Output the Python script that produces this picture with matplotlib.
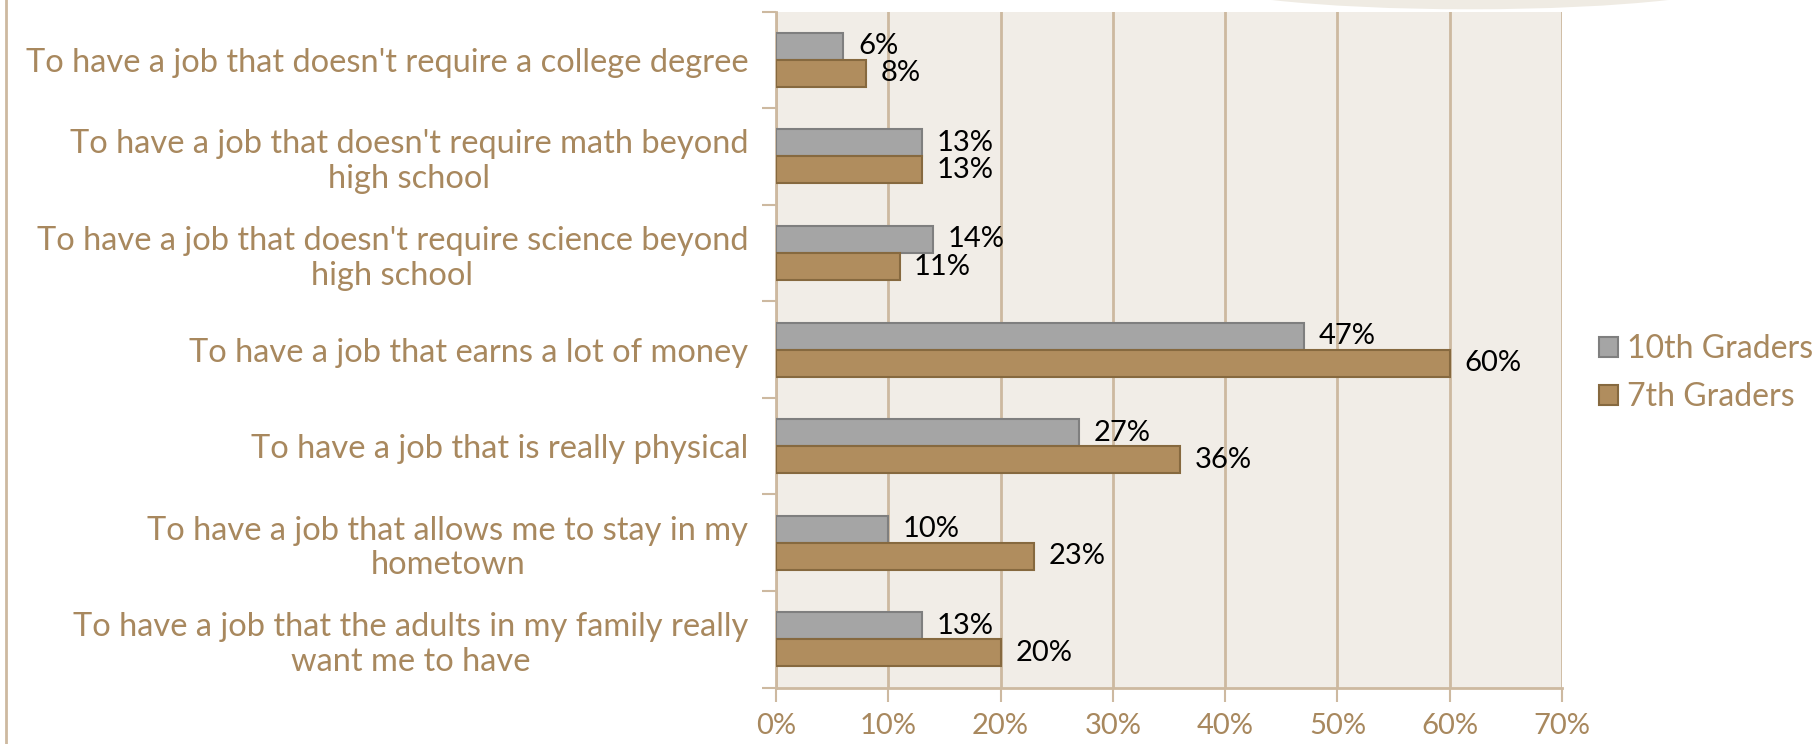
import matplotlib
matplotlib.use("Agg")
import matplotlib.pyplot as plt
from matplotlib.patches import Ellipse
from matplotlib.lines import Line2D
import numpy as np

categories = [
    "To have a job that doesn't require a college degree",
    "To have a job that doesn't require math beyond\nhigh school",
    "To have a job that doesn't require science beyond\nhigh school",
    "To have a job that earns a lot of money",
    "To have a job that is really physical",
    "To have a job that allows me to stay in my\nhometown",
    "To have a job that the adults in my family really\nwant me to have",
]
grade10 = [6, 13, 14, 47, 27, 10, 13]
grade7 = [8, 13, 11, 60, 36, 23, 20]
series = ["10th Graders", "7th Graders"]
xticks = [0, 10, 20, 30, 40, 50, 60, 70]

TAN = "#A8885E"
GRID = "#CDB9A0"
GRAY = "#A5A5A5"
BROWN = "#B08D5E"

plt.rcParams["font.family"] = ["Lato", "DejaVu Sans"]

fig = plt.figure(figsize=(18.18, 7.44), dpi=100)
# decorative slide shapes
fig.add_artist(Line2D([0.0035, 0.0035], [0, 1], transform=fig.transFigure, color=GRID, lw=2))
fig.add_artist(Ellipse((1470 / 1818, 1.03), 560 / 1818, 0.085, transform=fig.transFigure,
                       facecolor="#EFEBE3", edgecolor="none", zorder=0))

ax = fig.add_axes([776 / 1818, 0.0759, (1562 - 776) / 1818, 0.9085])
ax.set_facecolor("#F1EDE7")

y = np.arange(len(categories))
h = 0.28
ax.barh(y - h / 2, grade10, height=h, color=GRAY, edgecolor="#7F7F7F", lw=1.5, label=series[0], zorder=3)
ax.barh(y + h / 2, grade7, height=h, color=BROWN, edgecolor="#86693F", lw=1.5, label=series[1], zorder=3)

for yi, v in zip(y, grade10):
    ax.text(v + 1.3, yi - h / 2, f"{v}%", va="center", ha="left", fontsize=21, color="black", zorder=4)
for yi, v in zip(y, grade7):
    ax.text(v + 1.3, yi + h / 2, f"{v}%", va="center", ha="left", fontsize=21, color="black", zorder=4)

ax.set_xlim(0, 70)
ax.set_ylim(len(categories) - 0.5, -0.5)
ax.set_xticks(xticks)
ax.set_xticklabels([f"{t}%" for t in xticks])
ax.set_yticks(y)
ax.set_yticklabels(categories)
ax.set_yticks(np.arange(-0.5, len(categories)), minor=True)
ax.tick_params(axis="y", which="major", length=0, pad=20, labelsize=23.5, labelcolor=TAN)
ax.tick_params(axis="y", which="minor", length=10, width=1.5, color=GRID)
ax.tick_params(axis="x", length=10, width=1.5, color=GRID, labelsize=21, labelcolor=TAN, pad=8)
for lab in ax.get_yticklabels():
    lab.set_multialignment("center")

ax.grid(axis="x", color=GRID, lw=2, zorder=1)
ax.set_axisbelow(True)
for s in ["top", "right"]:
    ax.spines[s].set_visible(False)
for s in ["left", "bottom"]:
    ax.spines[s].set_color(GRID)
    ax.spines[s].set_linewidth(2)

leg = ax.legend(loc="center left", bbox_to_anchor=(1.01, 0.465), frameon=False, fontsize=23,
                handlelength=0.6, handleheight=0.6, handletextpad=0.3, labelspacing=0.55)
for t in leg.get_texts():
    t.set_color(TAN)

fig.savefig("out.png", dpi=100)
